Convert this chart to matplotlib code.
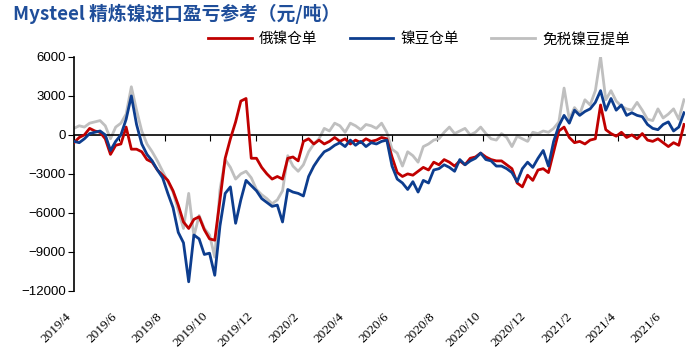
import matplotlib
matplotlib.use('Agg')
import matplotlib.pyplot as plt
import numpy as np
import pandas as pd

plt.rcParams['font.family'] = ['Noto Sans CJK SC', 'DejaVu Sans']

# weekly readings, 2019-04-01 .. 2021-06-28
dates = pd.date_range('2019-04-01', periods=118, freq='7D')

russia_wr = [
    -600, -200, 0, 500, 300, 200, -300, -1500, -800, -700,
    600, -1100, -1100, -1300, -1900, -2100, -2700, -3100, -3500, -4300,
    -5400, -6700, -7200, -6500, -6300, -7300, -8000, -8100, -5000, -1800,
    -300, 1000, 2600, 2800, -1800, -1800, -2500, -3000, -3400, -3200,
    -3400, -1800, -1700, -2000, -500, -300, -700, -400, -700, -500,
    -200, -500, -300, -700, -400, -600, -300, -500, -400, -200,
    -300, -1700, -2900, -3200, -3000, -3100, -2800, -2500, -2700, -2100,
    -2300, -1900, -2100, -2400, -2000, -2300, -1800, -1700, -1400, -1700,
    -1900, -2000, -2000, -2300, -2600, -3700, -4000, -3100, -3500, -2700,
    -2600, -2900, -1300, 300, 600, -200, -600, -500, -700, -400,
    -300, 2300, 400, 100, -100, 200, -200, 0, -300, 100,
    -400, -500, -300, -600, -900, -600, -800, 800]

bean_wr = [
    -500, -600, -300, 100, 200, 300, 0, -1200, -500, 0,
    1200, 3000, 800, -700, -1500, -2000, -2700, -3300, -4500, -5600,
    -7500, -8300, -11300, -7700, -8000, -9200, -9100, -10800, -7000, -4500,
    -4000, -6800, -5000, -3500, -3900, -4300, -4900, -5200, -5500, -5400,
    -6700, -4200, -4400, -4500, -4700, -3200, -2400, -1800, -1300, -1100,
    -800, -600, -900, -400, -800, -500, -900, -600, -700, -500,
    -400, -2400, -3400, -3700, -4200, -3600, -4400, -3500, -3700, -2700,
    -2600, -2300, -2500, -2800, -1900, -2300, -2000, -1800, -1400, -1900,
    -2000, -2400, -2400, -2600, -2900, -3600, -2600, -2100, -2500, -1800,
    -1200, -2400, -500, 700, 1500, 900, 1900, 1500, 1800, 2000,
    2500, 3400, 1900, 2800, 1900, 2300, 1500, 1700, 1500, 1400,
    800, 500, 400, 800, 1000, 300, 600, 1700]

bean_bl = [
    500, 700, 600, 900, 1000, 1100, 700, -300, 600, 900,
    1600, 3700, 1900, 300, -700, -1300, -2000, -2800, -3600, -4400,
    -5800, -7200, -4500, -7800, -6200, -7200, -7700, -9400, -4200, -1900,
    -2500, -3400, -3000, -2800, -3300, -4200, -4600, -4900, -5300, -5000,
    -4300, -1600, -2400, -2800, -2300, -1300, -700, -300, 500, 300,
    900, 700, 200, 900, 700, 400, 800, 700, 500, 900,
    200, -1100, -1400, -2400, -1300, -1600, -2100, -900, -700, -400,
    -300, 200, 600, 100, 300, 500, 0, 200, 600, 100,
    -300, -400, 100, -200, -900, -100, -300, -500, 200, 100,
    300, 200, 500, 1000, 3600, 1200, 2100, 1600, 2700, 2300,
    3400, 6000, 2700, 3400, 2600, 2200, 2000, 1900, 2500, 1900,
    1200, 1100, 2000, 1300, 1600, 2000, 1200, 2700]

tick_labels = ['2019/4', '2019/6', '2019/8', '2019/10', '2019/12', '2020/2', '2020/4',
               '2020/6', '2020/8', '2020/10', '2020/12', '2021/2', '2021/4', '2021/6']
tick_pos = pd.to_datetime(tick_labels, format='%Y/%m')

fig = plt.figure(figsize=(6.98, 3.6), dpi=100)
ax = fig.add_axes([0.106, 0.192, 0.875, 0.650])

ax.plot(dates, bean_bl, color='#BFBFBF', lw=2, label='免税镍豆提单', zorder=2)
ax.plot(dates, russia_wr, color='#C00000', lw=2, label='俄镍仓单', zorder=3)
ax.plot(dates, bean_wr, color='#0D3D8E', lw=2, label='镍豆仓单', zorder=4)

ax.set_xlim(pd.Timestamp('2019-04-01'), pd.Timestamp('2021-06-29'))
ax.set_ylim(-12000, 6000)
ax.set_yticks(np.arange(-12000, 6001, 3000))
for lbl in ax.get_yticklabels():
    lbl.set_family('Liberation Sans')
ax.tick_params(axis='y', direction='out', length=4, labelsize=9.5, pad=2)

ax.spines['top'].set_visible(False)
ax.spines['right'].set_visible(False)
ax.spines['bottom'].set_position(('data', 0))
ax.spines['left'].set_linewidth(1.2)
ax.spines['bottom'].set_linewidth(1.2)
ax.set_xticks(tick_pos)
ax.tick_params(axis='x', direction='out', length=4, labelbottom=False)

sec = ax.secondary_xaxis('bottom')
sec.set_xticks(tick_pos)
sec.set_xticklabels(tick_labels, rotation=45, ha='right', family='Liberation Serif', fontsize=9.5)
sec.tick_params(length=0, pad=14)
sec.spines['bottom'].set_visible(False)

h, l = ax.get_legend_handles_labels()
order = [1, 2, 0]
ax.legend([h[i] for i in order], [l[i] for i in order], ncol=3, frameon=False,
          loc='center', bbox_to_anchor=(0.565, 1.075), fontsize=10.5,
          handlelength=3, columnspacing=2.2, handletextpad=0.5)

fig.text(0.018, 0.962, 'Mysteel 精炼镍进口盈亏参考（元/吨）', color='#1F4E9A',
         fontsize=13.5, fontweight='bold', va='center', ha='left')

fig.savefig('out.png', dpi=100)
